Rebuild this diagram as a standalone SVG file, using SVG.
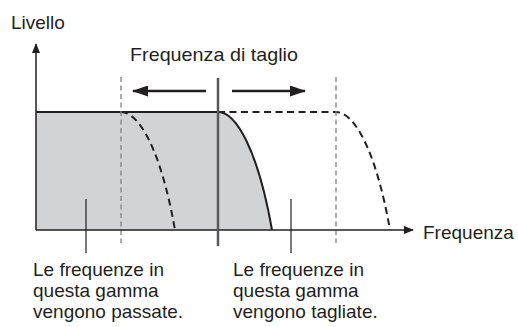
<svg xmlns="http://www.w3.org/2000/svg" width="518" height="327" viewBox="0 0 518 327">
<style>
text{font-family:"Liberation Sans",Arial,sans-serif;fill:#231f20;font-size:19px}
.ax{stroke:#231f20;stroke-width:1.5;fill:none}
.guide{stroke:#808285;stroke-width:1.3;stroke-dasharray:5 3.5;fill:none}
.dcurve{stroke:#231f20;stroke-width:2;stroke-dasharray:7 4.5;fill:none}
.lead{stroke:#231f20;stroke-width:1.2}
.move{stroke:#231f20;stroke-width:2.5}
</style>
<defs>
<marker id="ah" markerWidth="10" markerHeight="8" refX="9" refY="4" orient="auto" markerUnits="userSpaceOnUse"><path d="M0,0 L10,4 L0,8 Z" fill="#231f20"/></marker>
<marker id="ahb" markerWidth="16" markerHeight="11" refX="15" refY="5.5" orient="auto" markerUnits="userSpaceOnUse"><path d="M0,0 L16,5.5 L0,11 Z" fill="#231f20"/></marker>
</defs>
<g id="passband">
<path d="M36,112 L218,112 C236,112 258,150 272,230 L36,230 Z" fill="#d1d3d4" stroke="none"/>
<path d="M36,112 L218,112 C236,112 258,150 272,230" fill="none" stroke="#231f20" stroke-width="2"/>
</g>
<g id="shifted-curves">
<path class="dcurve" d="M121,112 C139,112 161,150 175,230"/>
<path class="dcurve" d="M218,112 L336,112 C354,112 376,150 390,230"/>
</g>
<g id="guides">
<line class="guide" x1="121" y1="77" x2="121" y2="243"/>
<line class="guide" x1="336" y1="77" x2="336" y2="243"/>
</g>
<g id="axes">
<line class="ax" x1="36" y1="230" x2="36" y2="44" marker-end="url(#ah)"/>
<line class="ax" x1="36" y1="230" x2="413" y2="230" marker-end="url(#ah)"/>
</g>
<g id="cutoff">
<line x1="218" y1="78" x2="218" y2="246" stroke="#58595b" stroke-width="2.5"/>
</g>
<g id="connectors">
<line class="move" x1="206" y1="91" x2="133" y2="91" marker-end="url(#ahb)"/>
<line class="move" x1="232" y1="91" x2="305" y2="91" marker-end="url(#ahb)"/>
<line class="lead" x1="86" y1="199" x2="86" y2="253"/>
<line class="lead" x1="291" y1="199" x2="291" y2="253"/>
</g>
<g id="label-level"><text x="11" y="29">Livello</text></g>
<g id="label-cutoff"><text x="130" y="61" textLength="168" lengthAdjust="spacingAndGlyphs">Frequenza di taglio</text></g>
<g id="label-freq"><text x="423" y="239">Frequenza</text></g>
<g id="label-pass">
<text x="33" y="276">Le frequenze in</text>
<text x="33" y="297">questa gamma</text>
<text x="33" y="318">vengono passate.</text>
</g>
<g id="label-cut">
<text x="233" y="276">Le frequenze in</text>
<text x="233" y="297">questa gamma</text>
<text x="233" y="318">vengono tagliate.</text>
</g>
</svg>
